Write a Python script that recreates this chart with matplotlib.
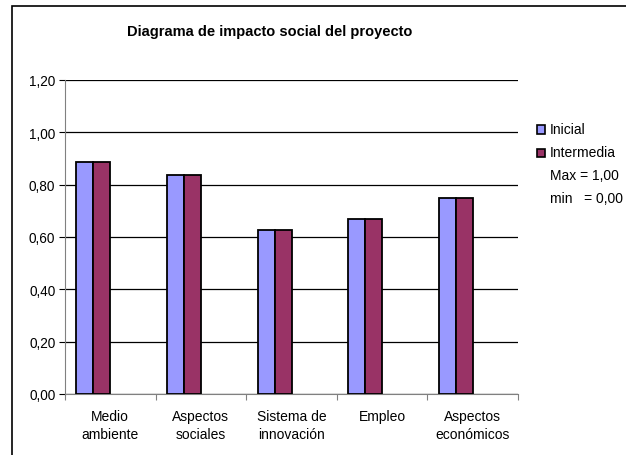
import matplotlib
matplotlib.use("Agg")
import matplotlib.pyplot as plt
from matplotlib.patches import Rectangle
import numpy as np

plt.rcParams['font.family'] = ['Liberation Sans', 'DejaVu Sans']

categories = ["Medio\nambiente", "Aspectos\nsociales", "Sistema de\ninnovación", "Empleo", "Aspectos\neconómicos"]
inicial = [0.885, 0.837, 0.627, 0.668, 0.748]
intermedia = [0.885, 0.837, 0.627, 0.668, 0.748]
series_names = ["Inicial", "Intermedia"]
extra_legend = ["Max = 1,00", "min   = 0,00"]
yticks = [0.0, 0.2, 0.4, 0.6, 0.8, 1.0, 1.2]

W, H = 626, 456
fig = plt.figure(figsize=(W / 100, H / 100), dpi=100)

# figure border (extends past right/bottom edges)
fig.patches.append(Rectangle((12 / W, -0.05), 1.2, 1 - 7 / H + 0.05, transform=fig.transFigure,
                             fill=False, edgecolor='black', linewidth=1.2, zorder=0))

left, right, top, bottom = 65, 518, 81, 395
ax = fig.add_axes([left / W, 1 - bottom / H, (right - left) / W, (bottom - top) / H])

n = len(categories)
x = np.arange(n)
bw = 0.1875
ax.bar(x - 1.5 * bw, inicial, width=bw, align='center', color='#9999FF', edgecolor='black', linewidth=1.3, zorder=3)
ax.bar(x - 0.5 * bw, intermedia, width=bw, align='center', color='#993366', edgecolor='black', linewidth=1.3, zorder=3)

ax.set_xlim(-0.5, n - 0.5)
ax.set_ylim(0, 1.2)
ax.set_yticks(yticks)
ax.set_yticklabels([f"{v:.2f}".replace('.', ',') for v in yticks], fontsize=9.8)
ax.yaxis.grid(True, color='black', linewidth=0.9, zorder=0)
ax.set_axisbelow(True)

ax.set_xticks(np.arange(n + 1) - 0.5)
ax.set_xticklabels([])
ax.set_xticks(x, minor=True)
ax.set_xticklabels(categories, minor=True, fontsize=10, linespacing=1.3)
ax.tick_params(axis='x', which='minor', length=0, pad=11)
ax.tick_params(axis='x', which='major', length=4, color='#808080')
ax.tick_params(axis='y', length=4, color='black', pad=3)

for s in ['top', 'right']:
    ax.spines[s].set_visible(False)
ax.spines['left'].set_color('#808080')
ax.spines['bottom'].set_color('#808080')

fig.text(270 / W, 1 - 32 / H, "Diagrama de impacto social del proyecto", ha='center', va='center',
         fontsize=10.5, fontweight='bold')

# legend
colors = ['#9999FF', '#993366']
ys = [130, 153, 176, 199]
for i, name in enumerate(series_names):
    fig.patches.append(Rectangle((537 / W, 1 - (ys[i] + 4.5) / H), 8 / W, 8 / H, transform=fig.transFigure,
                                 facecolor=colors[i], edgecolor='black', linewidth=1.2))
    fig.text(550 / W, 1 - ys[i] / H, name, ha='left', va='center', fontsize=10)
for j, name in enumerate(extra_legend):
    fig.text(550 / W, 1 - ys[2 + j] / H, name, ha='left', va='center', fontsize=10)

fig.savefig("out.png", dpi=100)
